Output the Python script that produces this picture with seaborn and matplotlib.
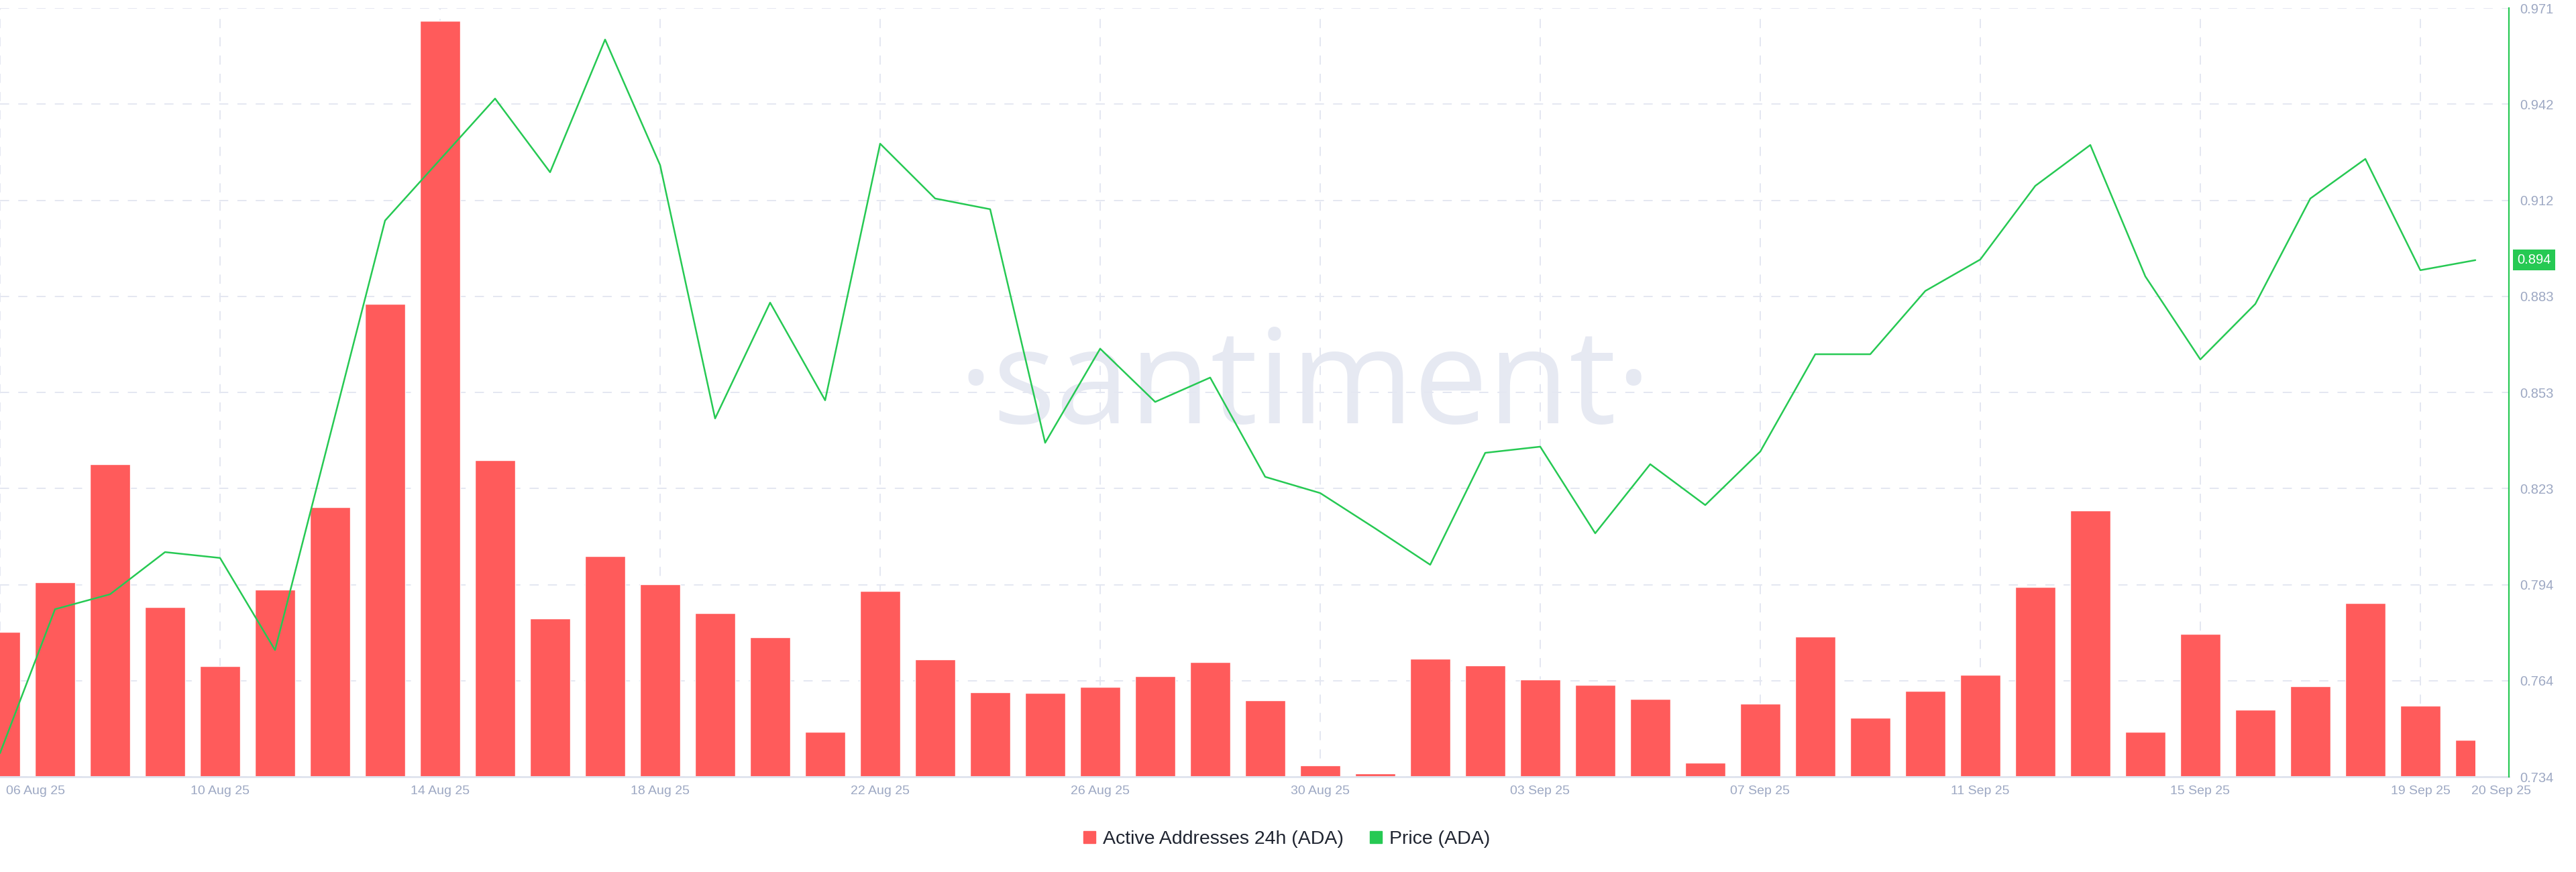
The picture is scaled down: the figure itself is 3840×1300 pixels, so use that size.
import numpy as np
import pandas as pd
import matplotlib
matplotlib.use('Agg')
import matplotlib.pyplot as plt
import matplotlib.transforms as mtransforms
from matplotlib.lines import Line2D
from matplotlib.patches import Rectangle
import seaborn as sns

# --- data (daily, 06 Aug 25 .. 20 Sep 25) ---
dates = pd.date_range('2025-08-06', '2025-09-20', freq='D')
active_addresses = [11880, 15950, 25630, 13915, 9075, 15345, 22110, 38775, 61985, 25960,
                    12980, 18095, 15785, 13420, 11440, 3685, 15235, 9625, 6930, 6875,
                    7370, 8250, 9405, 6270, 935, 300, 9680, 9130, 7975, 7535,
                    6380, 1155, 5995, 11495, 4840, 7040, 8360, 15565, 21835, 3685,
                    11715, 5500, 7425, 14245, 5830, 3025]
price_ada = [0.7417, 0.7861, 0.7907, 0.8037, 0.8019, 0.7735, 0.8397, 0.9059, 0.9247, 0.9435,
             0.9208, 0.9617, 0.9230, 0.8449, 0.8806, 0.8505, 0.9296, 0.9127, 0.9094, 0.8374,
             0.8664, 0.8500, 0.8575, 0.8269, 0.8219, 0.8110, 0.7998, 0.8343, 0.8362, 0.8095,
             0.8308, 0.8182, 0.8347, 0.8647, 0.8647, 0.8842, 0.8939, 0.9166, 0.9292, 0.8887,
             0.8631, 0.8802, 0.9127, 0.9249, 0.8906, 0.8937]
tick_days = [0, 4, 8, 12, 16, 20, 24, 28, 32, 36, 40, 44, 45]
tick_labels = ['06 Aug 25', '10 Aug 25', '14 Aug 25', '18 Aug 25', '22 Aug 25', '26 Aug 25',
               '30 Aug 25', '03 Sep 25', '07 Sep 25', '11 Sep 25', '15 Sep 25', '19 Sep 25',
               '20 Sep 25']
price_min, price_max = 0.73445, 0.97141
bar_max = 63030

RED = '#ff5b5b'
GREEN = '#26c953'
GRID = '#e4e7f1'
TICK = '#9da8c3'

sns.set_theme(style='white')
plt.rcParams['font.family'] = ['Liberation Sans', 'DejaVu Sans']

df = pd.DataFrame({'day': np.arange(len(dates)),
                   'active': active_addresses,
                   'price': price_ada})

fig = plt.figure(figsize=(38.4, 13), dpi=100)
ax = fig.add_axes([0.0, 1 - 1158 / 1300, 3740 / 3840, 1146 / 1300])

# bars (active addresses)
sns.barplot(data=df, x='day', y='active', ax=ax, color=RED, saturation=1,
            native_scale=True, width=0.74, errorbar=None, zorder=2)
clip = Rectangle((0, 0), len(dates) - 1, bar_max, transform=ax.transData)
for p in ax.patches:
    p.set_clip_path(clip)

ax.set_xlim(0, 45.61)
ax.set_ylim(0, bar_max)
ax.set_yticks(np.linspace(0, bar_max, 9))
ax.set_yticklabels([])
ax.xaxis.remove_overlapping_locs = False
ax.set_xticks(tick_days)
ax.set_xticklabels(tick_labels)
ax.set_xticks(range(0, 45, 4), minor=True)
ax.set_xlabel('')
ax.set_ylabel('')
ax.set_axisbelow(True)
ax.grid(which='major', axis='y', color=GRID, lw=1.4, ls=(0, (7, 7)))
ax.grid(which='minor', axis='x', color=GRID, lw=1.4, ls=(0, (7, 7)))
ax.tick_params(axis='x', which='both', length=0, pad=9, labelsize=14, labelcolor=TICK)
ax.tick_params(axis='y', length=0)
for s in ['left', 'right', 'top']:
    ax.spines[s].set_visible(False)
ax.spines['bottom'].set_color('#dfe3ee')
ax.spines['bottom'].set_linewidth(2)
lbls = ax.get_xticklabels()
lbls[0].set_ha('left')
lbls[-1].set_ha('left')
lbls[0].set_transform(lbls[0].get_transform() + mtransforms.ScaledTranslation(9 / 100, 0, fig.dpi_scale_trans))
lbls[-1].set_transform(lbls[-1].get_transform() + mtransforms.ScaledTranslation(-6 / 100, 0, fig.dpi_scale_trans))

# watermark
ax.text(1945 / 3840, 1 - 631 / 1300, '\u00b7santiment\u00b7', transform=fig.transFigure,
        ha='center', va='baseline', fontsize=142, family=['Open Sans', 'DejaVu Sans'],
        color='#e6e9f2', zorder=0)

# price line
ax2 = ax.twinx()
sns.lineplot(data=df, x='day', y='price', ax=ax2, color=GREEN, lw=1.8)
ax2.set_ylim(price_min, price_max)
ax2.set_yticks(np.linspace(price_min, price_max, 9))
ax2.yaxis.set_major_formatter(plt.FuncFormatter(lambda v, _: f'{v:.3f}'))
ax2.tick_params(axis='y', length=0, pad=12, labelsize=14.5, labelcolor=TICK)
ax2.set_xlabel('')
ax2.set_ylabel('')
ax2.grid(False)
for s in ['left', 'top', 'bottom']:
    ax2.spines[s].set_visible(False)
ax2.spines['right'].set_color(GREEN)
ax2.spines['right'].set_linewidth(1.6)

blend = mtransforms.blended_transform_factory(ax2.transAxes, ax2.transData)
ax2.annotate(f'{price_ada[-1]:.3f}', xy=(1, price_ada[-1]), xycoords=blend,
             xytext=(9, 0), textcoords='offset points', ha='left', va='center',
             fontsize=14.5, color='white', annotation_clip=False,
             bbox=dict(boxstyle='square,pad=0.3', fc=GREEN, ec='none'))

# legend
handles = [Line2D([], [], ls='none', marker='s', markersize=13, color=RED),
           Line2D([], [], ls='none', marker='s', markersize=13, color=GREEN)]
fig.legend(handles, ['Active Addresses 24h (ADA)', 'Price (ADA)'], loc='center',
           bbox_to_anchor=(1918 / 3840, 1 - 1251 / 1300), ncol=2, frameon=False,
           fontsize=20.5, labelcolor='#1f2430', handlelength=0.6, handletextpad=0.4,
           columnspacing=1.4)

fig.savefig('out.png', dpi=100, facecolor='white')
